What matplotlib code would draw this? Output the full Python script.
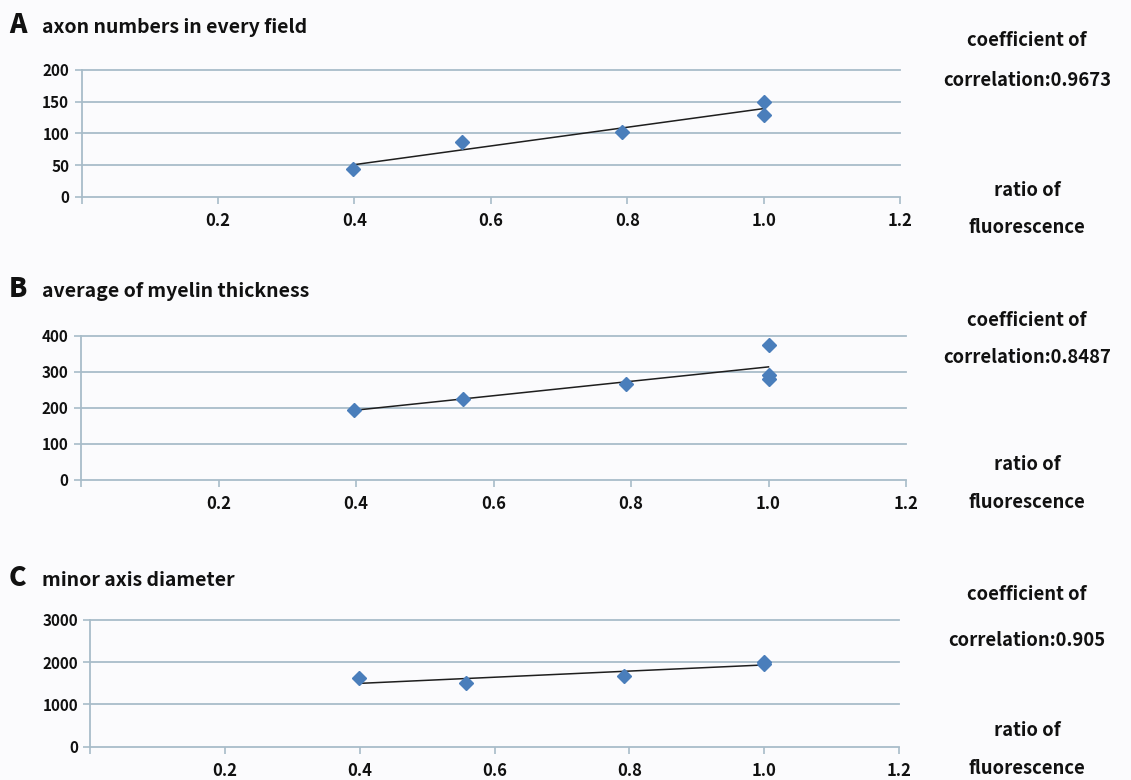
import numpy as np
import matplotlib
matplotlib.use("Agg")
import matplotlib.pyplot as plt

plt.rcParams['font.family'] = ['Noto Sans CJK JP', 'DejaVu Sans']

W, H = 1131, 780

# ---- data ----
a_x = [0.398, 0.558, 0.793, 1.0, 1.0]
a_y = [43, 87, 102, 150, 129]
b_x = [0.397, 0.556, 0.792, 1.0, 1.0, 1.0]
b_y = [195, 224, 266, 374, 291, 279]
c_x = [0.398, 0.557, 0.792, 1.0, 1.0]
c_y = [1618, 1500, 1681, 2010, 1960]

letters = ["A", "B", "C"]
titles = ["axon numbers in every field", "average of myelin thickness", "minor axis diameter"]
corr_texts = ["correlation:0.9673", "correlation:0.8487", "correlation:0.905"]
y_ticks = [[0, 50, 100, 150, 200], [0, 100, 200, 300, 400], [0, 1000, 2000, 3000]]
x_ticks = [0.2, 0.4, 0.6, 0.8, 1.0, 1.2]
x_labels = ["0.2", "0.4", "0.6", "0.8", "1.0", "1.2"]

datasets = [(a_x, a_y), (b_x, b_y), (c_x, c_y)]

# layout in pixels: (left, right, top, bottom)
boxes = [(81.7, 900, 70, 196.7), (81, 906, 335.7, 479.7), (90.4, 899, 620, 746.7)]
title_y = [33, 297, 586]
right_y = [(40, 80, 190, 227), (320, 358, 465, 502), (595, 640, 730, 768)]

grid_c = '#a8bcc9'
blue = '#4a7ebb'
bg = '#fbfbfd'

fig = plt.figure(figsize=(W / 100, H / 100), dpi=100, facecolor=bg)

for i in range(3):
    l, r, t, b = boxes[i]
    ax = fig.add_axes([l / W, 1 - b / H, (r - l) / W, (b - t) / H])
    ax.set_facecolor(bg)
    xs, ys = datasets[i]
    xs = np.array(xs); ys = np.array(ys)
    k, c0 = np.polyfit(xs, ys, 1)
    lx = np.array([xs.min(), xs.max()])
    ax.plot(lx, k * lx + c0, color='#1e1e1e', lw=1.1, zorder=3)
    ax.plot(xs, ys, linestyle='none', marker='D', ms=7, color=blue, mec=blue, zorder=4)
    ax.set_xlim(0, 1.2)
    yt = y_ticks[i]
    ax.set_ylim(yt[0], yt[-1])
    ax.set_yticks(yt)
    ax.set_yticklabels([str(v) for v in yt], fontsize=11, fontweight='bold')
    ax.set_xticks([0] + x_ticks)
    ax.set_xticklabels([""] + x_labels, fontsize=12, fontweight='bold')
    for s in ['top', 'right']:
        ax.spines[s].set_visible(False)
    for s in ['left', 'bottom']:
        ax.spines[s].set_color(grid_c)
        ax.spines[s].set_linewidth(1.3)
    ax.tick_params(axis='both', colors=grid_c, labelcolor='#111111', width=1.2, length=5)
    ax.tick_params(axis='x', pad=6)
    ax.tick_params(axis='y', pad=4)
    for v in yt[1:]:
        ax.axhline(v, color=grid_c, lw=1.3, zorder=1, clip_on=False)

    fig.text(9 / W, 1 - title_y[i] / H, letters[i], fontsize=19, fontweight='heavy',
             ha='left', va='baseline', color='#111111')
    fig.text(42 / W, 1 - title_y[i] / H, titles[i], fontsize=14, fontweight='bold',
             ha='left', va='baseline', color='#111111')
    ry = right_y[i]
    for txt, yy in zip(["coefficient of", corr_texts[i], "ratio of", "fluorescence"], ry):
        fig.text(1027 / W, 1 - yy / H, txt, fontsize=13.3, fontweight='bold',
                 ha='center', va='center', color='#111111')

fig.savefig("out.png", dpi=100, facecolor=bg)
